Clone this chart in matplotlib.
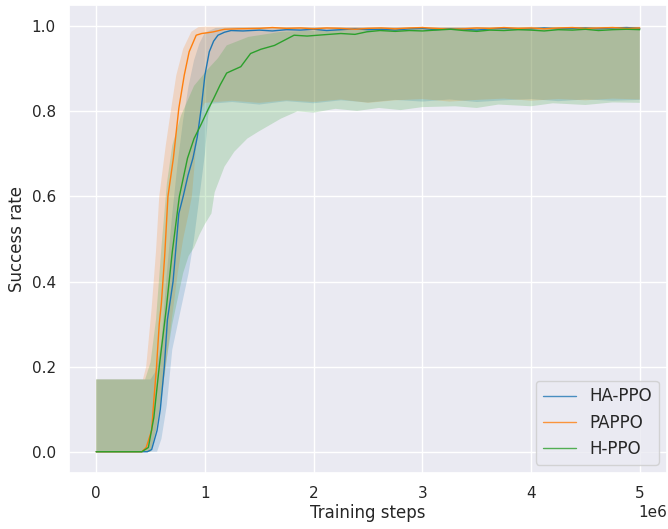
import numpy as np
import matplotlib
matplotlib.use("Agg")
import matplotlib.pyplot as plt
import seaborn as sns

# ---------------- data (x in millions of steps) ----------------
labels = ["HA-PPO", "PAPPO", "H-PPO"]

# HA-PPO
ha_x = [0, 0.47, 0.51, 0.56, 0.59, 0.627, 0.655, 0.707, 0.737, 0.76, 0.8, 0.845, 0.89, 0.93,
        0.966, 1.0, 1.04, 1.08, 1.12, 1.18, 1.24, 1.35, 1.5, 1.62, 1.75, 1.88, 2.0, 2.12, 2.25,
        2.38, 2.5, 2.62, 2.75, 2.88, 3.0, 3.12, 3.25, 3.38, 3.5, 3.62, 3.75, 3.88, 4.0, 4.12,
        4.25, 4.38, 4.5, 4.62, 4.75, 4.88, 5.0]
ha_y = [0, 0, 0.005, 0.05, 0.10, 0.20, 0.31, 0.40, 0.49, 0.56, 0.60, 0.65, 0.69, 0.74,
        0.807, 0.885, 0.94, 0.965, 0.979, 0.986, 0.99, 0.989, 0.991, 0.989, 0.992, 0.991, 0.993,
        0.990, 0.992, 0.994, 0.992, 0.993, 0.991, 0.994, 0.995, 0.992, 0.994, 0.993, 0.991,
        0.994, 0.995, 0.993, 0.994, 0.996, 0.994, 0.995, 0.996, 0.994, 0.996, 0.997, 0.995]
ha_up_x = [0, 0.5, 0.55, 0.6, 0.65, 0.7, 0.75, 0.8, 0.85, 0.9, 0.95, 1.0, 1.1, 1.3, 5.0]
ha_up_y = [0.17, 0.17, 0.19, 0.26, 0.42, 0.56, 0.68, 0.78, 0.86, 0.92, 0.96, 0.985, 0.996, 0.998, 0.999]
ha_lo_x = [0, 0.56, 0.6, 0.65, 0.7, 0.75, 0.8, 0.85, 0.9, 0.95, 1.0, 1.03, 1.06, 1.25, 1.5,
           1.75, 2.0, 2.25, 2.5, 2.75, 3.0, 3.25, 3.5, 3.75, 4.0, 4.25, 4.5, 4.75, 5.0]
ha_lo_y = [0, 0, 0.03, 0.11, 0.24, 0.30, 0.36, 0.42, 0.50, 0.60, 0.70, 0.79, 0.818, 0.822, 0.816,
           0.824, 0.819, 0.826, 0.821, 0.827, 0.823, 0.828, 0.822, 0.826, 0.829, 0.824, 0.828,
           0.825, 0.827]

# PAPPO
pa_x = [0, 0.42, 0.46, 0.51, 0.53, 0.555, 0.58, 0.6, 0.63, 0.66, 0.71, 0.76, 0.81, 0.855, 0.92,
        0.97, 1.03, 1.08, 1.13, 1.18, 1.3, 1.5, 1.62, 1.75, 1.88, 2.0, 2.12, 2.25, 2.38, 2.5,
        2.62, 2.75, 2.88, 3.0, 3.12, 3.25, 3.38, 3.5, 3.62, 3.75, 3.88, 4.0, 4.12, 4.25, 4.38,
        4.5, 4.62, 4.75, 4.88, 5.0]
pa_y = [0, 0, 0.01, 0.05, 0.12, 0.20, 0.30, 0.35, 0.46, 0.60, 0.69, 0.807, 0.885, 0.94, 0.979,
        0.983, 0.985, 0.987, 0.99, 0.993, 0.994, 0.995, 0.997, 0.995, 0.996, 0.994, 0.996,
        0.995, 0.993, 0.995, 0.996, 0.994, 0.996, 0.997, 0.995, 0.993, 0.994, 0.996, 0.995,
        0.997, 0.995, 0.996, 0.994, 0.996, 0.997, 0.995, 0.996, 0.997, 0.995, 0.996]
pa_up_x = [0, 0.43, 0.46, 0.51, 0.55, 0.58, 0.625, 0.64, 0.69, 0.737, 0.8, 0.875, 0.94, 1.0, 5.0]
pa_up_y = [0.17, 0.17, 0.20, 0.337, 0.47, 0.60, 0.69, 0.72, 0.807, 0.885, 0.947, 0.987, 0.998, 0.999, 0.999]
pa_lo_x = [0, 0.5, 0.55, 0.6, 0.65, 0.7, 0.75, 0.8, 0.85, 0.88, 0.92, 0.96, 1.0, 1.25, 1.5,
           1.75, 2.0, 2.25, 2.5, 2.75, 3.0, 3.25, 3.5, 3.75, 4.0, 4.25, 4.5, 4.75, 5.0]
pa_lo_y = [0, 0, 0.05, 0.12, 0.22, 0.32, 0.42, 0.50, 0.56, 0.60, 0.72, 0.80, 0.82, 0.825, 0.82,
           0.826, 0.822, 0.828, 0.82, 0.826, 0.829, 0.823, 0.827, 0.83, 0.825, 0.829, 0.826,
           0.83, 0.828]

# H-PPO
hp_x = [0, 0.42, 0.48, 0.53, 0.58, 0.645, 0.7, 0.765, 0.84, 0.9, 0.966, 1.03, 1.08, 1.14,
        1.2, 1.26, 1.33, 1.42, 1.515, 1.64, 1.73, 1.82, 1.94, 2.09, 2.25, 2.38, 2.49, 2.61,
        2.75, 2.88, 3.0, 3.12, 3.26, 3.38, 3.5, 3.62, 3.75, 3.88, 4.0, 4.12, 4.25, 4.38, 4.5,
        4.62, 4.75, 4.88, 5.0]
hp_y = [0, 0, 0.01, 0.08, 0.20, 0.337, 0.47, 0.60, 0.69, 0.736, 0.77, 0.805, 0.83, 0.862,
        0.89, 0.897, 0.905, 0.936, 0.946, 0.955, 0.967, 0.979, 0.977, 0.98, 0.983, 0.981,
        0.987, 0.99, 0.988, 0.99, 0.989, 0.991, 0.993, 0.99, 0.988, 0.991, 0.99, 0.992, 0.991,
        0.989, 0.992, 0.991, 0.993, 0.99, 0.992, 0.993, 0.992]
hp_up_x = [0, 0.45, 0.5, 0.55, 0.6, 0.65, 0.7, 0.78, 0.9, 1.03, 1.12, 1.2, 1.4, 1.7, 2.6, 5.0]
hp_up_y = [0.17, 0.17, 0.21, 0.31, 0.48, 0.63, 0.72, 0.79, 0.86, 0.90, 0.925, 0.955, 0.975,
           0.987, 0.995, 0.998]
hp_lo_x = [0, 0.5, 0.55, 0.6, 0.65, 0.7, 0.75, 0.8, 0.85, 0.9, 0.95, 1.0, 1.06, 1.09, 1.18,
           1.27, 1.39, 1.49, 1.7, 1.85, 2.0, 2.2, 2.4, 2.6, 2.8, 3.0, 3.3, 3.5, 3.7, 4.0, 4.2,
           4.5, 4.75, 5.0]
hp_lo_y = [0, 0, 0.05, 0.13, 0.22, 0.30, 0.36, 0.42, 0.46, 0.48, 0.51, 0.535, 0.56, 0.61, 0.67,
           0.705, 0.736, 0.752, 0.783, 0.80, 0.797, 0.806, 0.801, 0.808, 0.803, 0.81, 0.812,
           0.808, 0.816, 0.812, 0.819, 0.815, 0.821, 0.82]

colors = ["#1f77b4", "#ff7f0e", "#2ca02c"]

# ---------------- plot ----------------
sns.set_theme(style="darkgrid")
plt.rcParams['font.family'] = ['DejaVu Sans']

fig = plt.figure(figsize=(6.68, 5.29), dpi=100)
ax = fig.add_axes([69 / 668, 56 / 529, 598 / 668, 468 / 529])

series = [
    (ha_x, ha_y, ha_up_x, ha_up_y, ha_lo_x, ha_lo_y),
    (pa_x, pa_y, pa_up_x, pa_up_y, pa_lo_x, pa_lo_y),
    (hp_x, hp_y, hp_up_x, hp_up_y, hp_lo_x, hp_lo_y),
]
scale = 1e6
for (mx, my, ux, uy, lx, ly), lab, c in zip(series, labels, colors):
    px = np.concatenate([np.array(ux), np.array(lx)[::-1]]) * scale
    py = np.concatenate([np.array(uy), np.array(ly)[::-1]])
    ax.fill(px, py, color=c, alpha=0.2, linewidth=0)
for (mx, my, ux, uy, lx, ly), lab, c in zip(series, labels, colors):
    ax.plot(np.array(mx) * scale, my, color=c, linewidth=1.0, label=lab)

ax.set_xlim(-0.25e6, 5.25e6)
ax.set_ylim(-0.05, 1.05)
ax.set_xticks([0, 1e6, 2e6, 3e6, 4e6, 5e6])
ax.set_yticks([0.0, 0.2, 0.4, 0.6, 0.8, 1.0])
ax.tick_params(labelsize=11)
ax.set_xlabel("Training steps", fontsize=12, labelpad=2)
ax.set_ylabel("Success rate", fontsize=12)
ax.xaxis.get_offset_text().set_fontsize(11)

leg = ax.legend(loc="lower right", fontsize=12)
for h in leg.get_lines():
    h.set_alpha(0.8)

fig.savefig("out.png", dpi=100)
